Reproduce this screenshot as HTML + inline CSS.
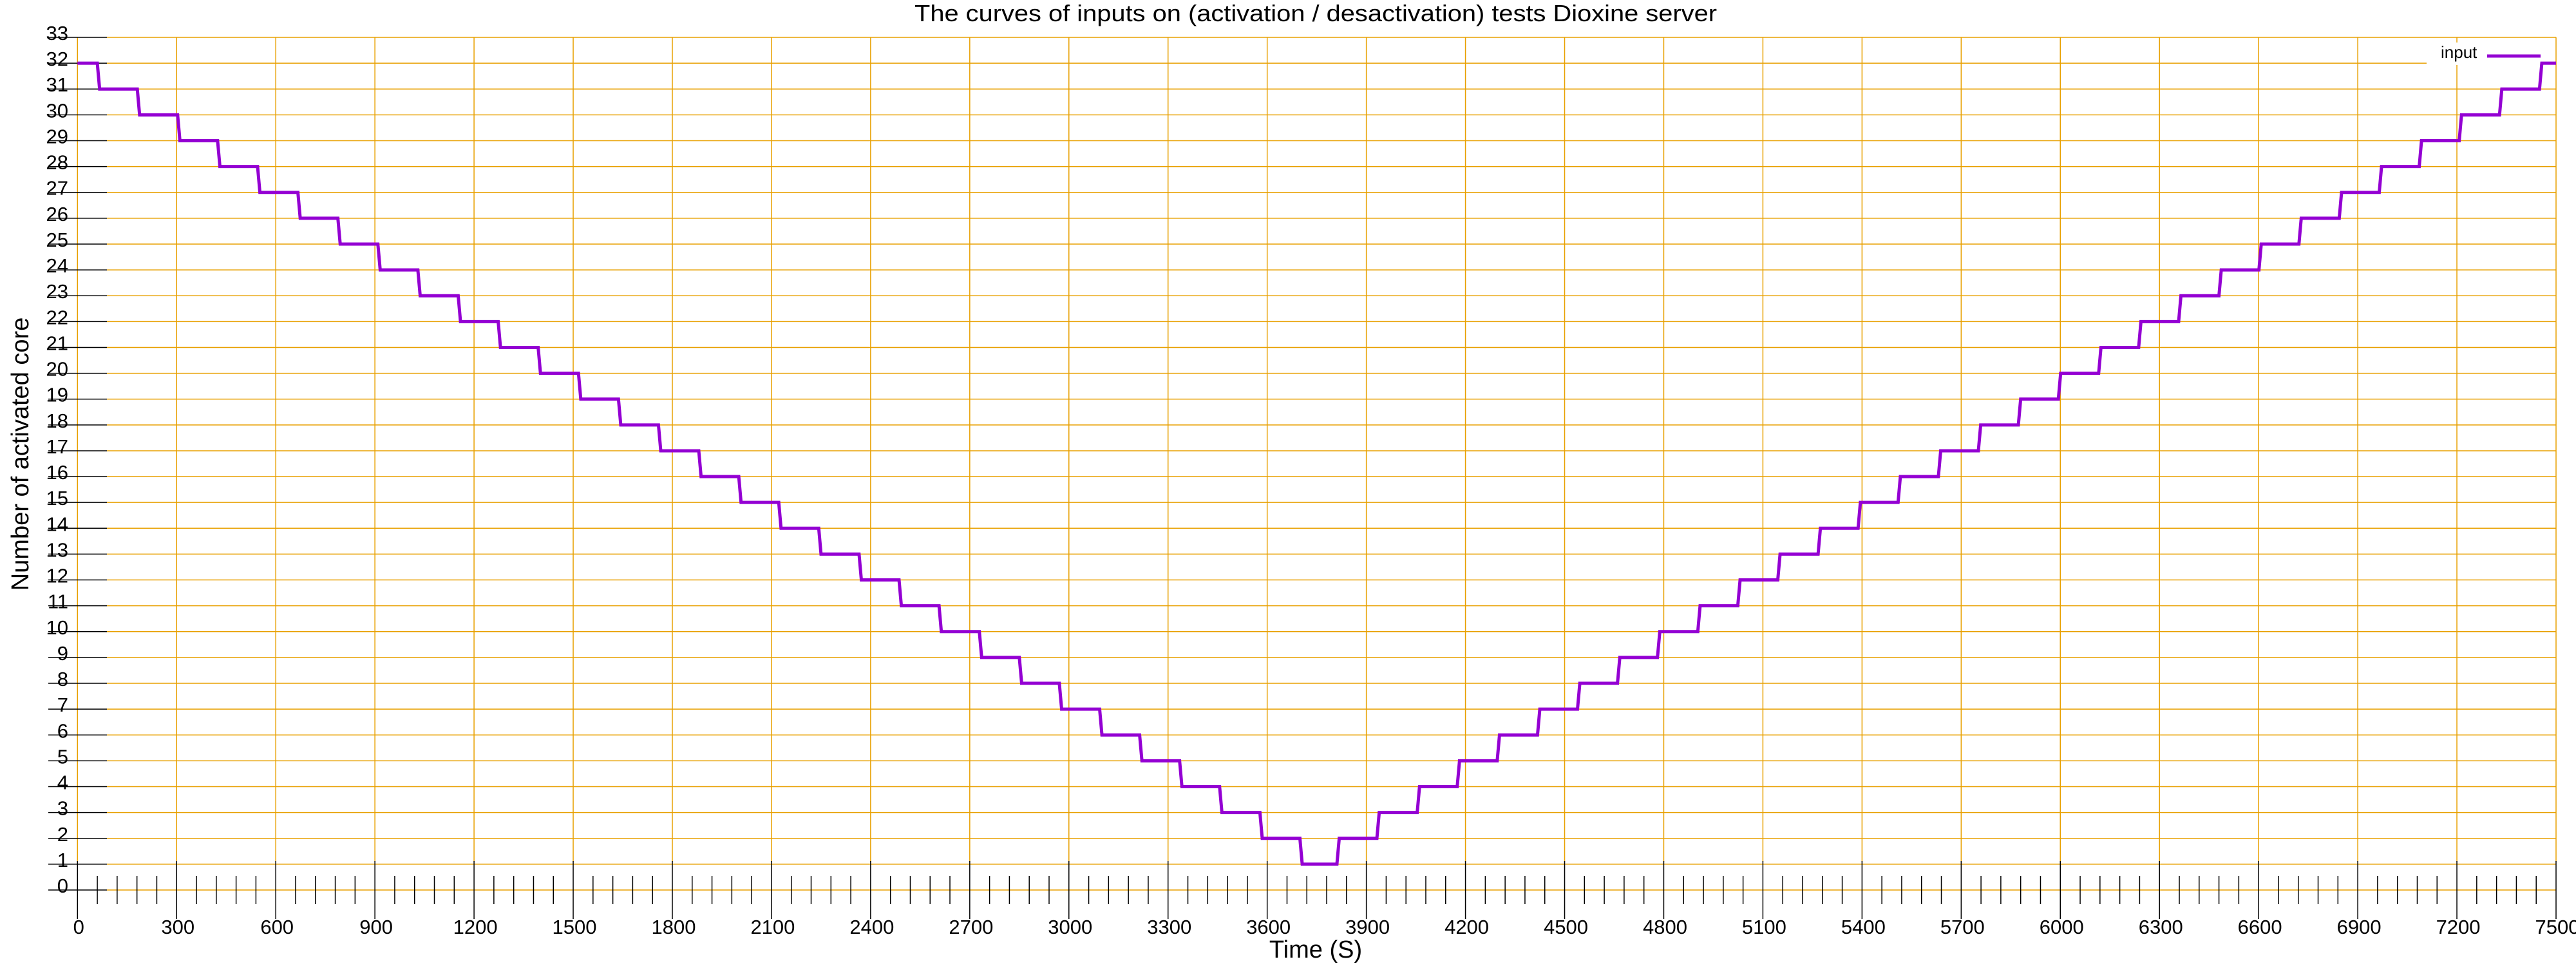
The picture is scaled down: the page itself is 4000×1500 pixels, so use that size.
<!DOCTYPE html>
<html><head><meta charset="utf-8"><style>
html,body{margin:0;padding:0;background:#fff}
svg{display:block;font-family:"Liberation Sans",sans-serif}
</style></head><body>
<svg id="chart" width="4000" height="1500" viewBox="0 0 4000 1500" xmlns="http://www.w3.org/2000/svg">
<rect width="4000" height="1500" fill="#fff"/>
<text x="2043" y="33" font-size="36" text-anchor="middle" textLength="1246" lengthAdjust="spacingAndGlyphs">The curves of inputs on (activation / desactivation) tests Dioxine server</text>
<g id="grid"></g>
<g id="axes"></g>
<rect x="3768" y="66" width="190" height="35" fill="#fff"/>
<text x="3790" y="90" font-size="26">input</text>
<line x1="3862" y1="87" x2="3945" y2="87" stroke="#9400d3" stroke-width="5"/>
<g id="series"></g>
<text x="2043" y="1487" font-size="38" text-anchor="middle">Time (S)</text>
<text transform="translate(44,705) rotate(-90)" font-size="38" text-anchor="middle">Number of activated core</text>
</svg>
<script>
const xTicks = [0,300,600,900,1200,1500,1800,2100,2400,2700,3000,3300,3600,3900,4200,4500,4800,5100,5400,5700,6000,6300,6600,6900,7200,7500];
const yTicks = [0,1,2,3,4,5,6,7,8,9,10,11,12,13,14,15,16,17,18,19,20,21,22,23,24,25,26,27,28,29,30,31,32,33];
const startLevel = 32;
const changeTimes = [60,181,303,424,545,667,788,909,1030,1152,1273,1394,1516,1637,1758,1880,2001,2122,2243,2365,2486,2607,2729,2850,2971,3093,3214,3335,3456,3578,3699,
3811,3932,4054,4175,4296,4418,4539,4660,4781,4903,5024,5145,5267,5388,5509,5631,5752,5873,5994,6116,6237,6358,6480,6601,6722,6844,6965,7086,7207,7329,7450];
const newLevels = [31,30,29,28,27,26,25,24,23,22,21,20,19,18,17,16,15,14,13,12,11,10,9,8,7,6,5,4,3,2,1,
2,3,4,5,6,7,8,9,10,11,12,13,14,15,16,17,18,19,20,21,22,23,24,25,26,27,28,29,30,31,32];
const xMax = 7500, yMax = 33;

const X0=120.3, X1=3969, Y0=1382, Y1=58;
function sx(t){return X0+(t/xMax)*(X1-X0);}
function sy(v){return Y0-(v/yMax)*(Y0-Y1);}
const NS="http://www.w3.org/2000/svg";
function mk(tag,attrs,parent){const e=document.createElementNS(NS,tag);for(const k in attrs)e.setAttribute(k,attrs[k]);parent.appendChild(e);return e;}
const grid=document.getElementById('grid'), axes=document.getElementById('axes'), series=document.getElementById('series');
const gold="#e8a000";
yTicks.forEach(v=>{
  const y=sy(v);
  const g=mk('line',{x1:166,x2:X1,y1:y,y2:y,stroke:gold,'stroke-width':1.5},grid);
  
  
  const t=mk('line',{x1:75,x2:166,y1:y,y2:y,stroke:'#000','stroke-width':1.5},axes);
  
  
  const l=mk('text',{x:106,y:y+4,'font-size':31,'text-anchor':'end'},axes);
  l.textContent=v;
  
  
});
xTicks.forEach(t=>{
  const x=sx(t);
  const g=mk('line',{x1:x,x2:x,y1:Y1,y2:1338,stroke:gold,'stroke-width':1.5},grid);
  
  
  const k=mk('line',{x1:x,x2:x,y1:1337,y2:1427,stroke:'#000','stroke-width':1.5},axes);
  
  
  const l=mk('text',{x:x+2,y:1450,'font-size':31,'text-anchor':'middle'},axes);
  l.textContent=t;
  
  
});
for(let t=60;t<xMax;t+=60){
  if(t%300===0)continue;
  const x=sx(t);
  const m=mk('line',{x1:x,x2:x,y1:1360,y2:1404,stroke:'#000','stroke-width':1.5},axes);
  
  
}
let pts=[[sx(0),sy(startLevel)]];
let cur=startLevel;
changeTimes.forEach((t,i)=>{
  pts.push([sx(t),sy(cur)]);
  pts.push([sx(t+7),sy(newLevels[i])]);
  cur=newLevels[i];
});
pts.push([sx(xMax),sy(cur)]);
const p=mk('polyline',{points:pts.map(p=>p.join(',')).join(' '),fill:'none',stroke:'#9400d3','stroke-width':5,'stroke-linejoin':'miter'},series);


</script>
</body></html>
